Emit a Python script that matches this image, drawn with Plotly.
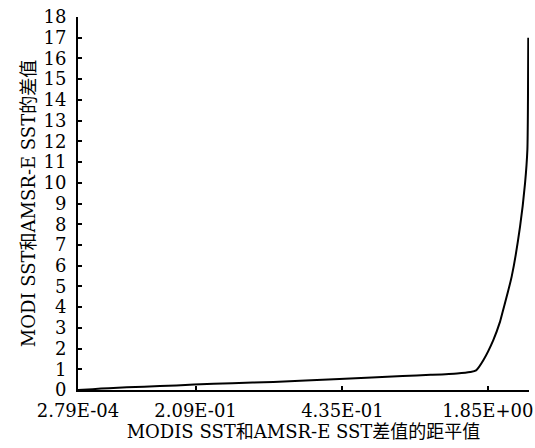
import plotly.graph_objects as go

# category index along the sorted anomaly axis
x_idx = [0, 10, 21, 45, 67, 79, 105, 133, 155, 178, 200, 221, 240, 258, 267, 271,
         276, 282.7, 287.3, 289.4, 295.2, 300.9, 304.3, 305.9, 306.3, 306.5]
y_val = [0.0, 0.04, 0.09, 0.16, 0.22, 0.27, 0.33, 0.39, 0.46, 0.53, 0.6, 0.67, 0.73,
         0.8, 0.87, 0.95, 1.45, 2.41, 3.3, 3.86, 5.47, 7.88, 9.97, 11.6, 14.0, 17.0]

tick_pos = [0, 80, 180, 279]
tick_labels = ["2.79E-04", "2.09E-01", "4.35E-01", "1.85E+00"]

font_fam = "DejaVu Serif, Noto Sans CJK SC, serif"

fig = go.Figure()
fig.add_trace(go.Scatter(x=x_idx, y=y_val, mode="lines",
                         line=dict(color="black", width=2, shape="spline", smoothing=0.6),
                         showlegend=False))

fig.update_layout(
    width=535, height=448,
    margin=dict(l=78, r=6, t=17, b=58),
    paper_bgcolor="white", plot_bgcolor="white",
    font=dict(family=font_fam, color="black", size=18),
)
fig.update_xaxes(
    range=[0, 307], tickmode="array", tickvals=tick_pos, ticktext=tick_labels,
    showgrid=False, zeroline=False, showline=True, linecolor="black", linewidth=2,
    ticks="inside", ticklen=4, tickwidth=2, tickcolor="black",
    tickfont=dict(family=font_fam, size=18), ticklabelstandoff=3,
    title=dict(text="MODIS SST和AMSR-E SST差值的距平值",
               font=dict(family=font_fam, size=18), standoff=4),
    automargin=False,
)
fig.update_yaxes(
    range=[0, 18], dtick=1, tick0=0,
    showgrid=False, zeroline=False, showline=True, linecolor="black", linewidth=2,
    ticks="inside", ticklen=4, tickwidth=2, tickcolor="black",
    tickfont=dict(family=font_fam, size=18), ticklabelstandoff=6,
    title=dict(text="MODI SST和AMSR-E SST的差值",
               font=dict(family=font_fam, size=18), standoff=3),
    automargin=False,
)

fig.write_html("out.html", config={"displayModeBar": False},
               post_script="document.body.style.margin='0';document.body.style.overflow='hidden';")
